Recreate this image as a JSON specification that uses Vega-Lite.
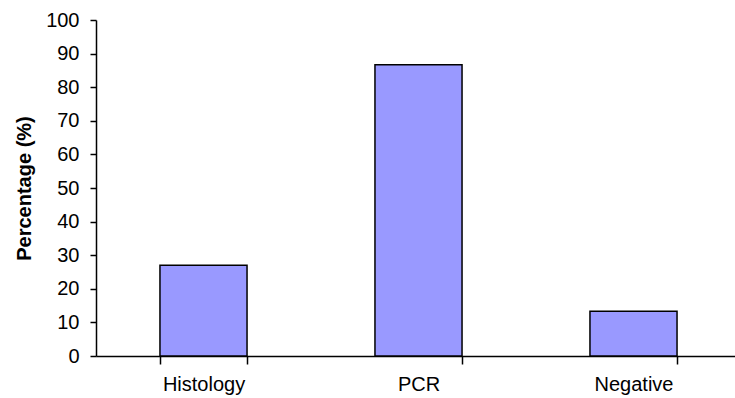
{
  "$schema": "https://vega.github.io/schema/vega-lite/v6.json",
  "autosize": {"type": "none"},
  "padding": {"left": 96, "top": 20, "right": 0, "bottom": 42},
  "width": 645,
  "height": 336,
  "background": "white",
  "config": {
    "view": {"stroke": null},
    "font": "Liberation Sans",
    "axis": {
      "domainColor": "black",
      "domainWidth": 1.5,
      "tickColor": "black",
      "tickWidth": 1.5,
      "labelColor": "black",
      "titleColor": "black",
      "labelFont": "Liberation Sans",
      "titleFont": "Liberation Sans",
      "grid": false
    }
  },
  "data": {
    "values": [
      {"method": "Histology", "percentage": 27},
      {"method": "PCR", "percentage": 86.7},
      {"method": "Negative", "percentage": 13.3}
    ]
  },
  "mark": {"type": "bar", "fill": "#9999FF", "stroke": "black", "strokeWidth": 1.5},
  "encoding": {
    "x": {
      "field": "method",
      "type": "nominal",
      "sort": null,
      "scale": {"paddingInner": 0.595, "paddingOuter": 0.2975},
      "axis": {
        "title": null,
        "labelAngle": 0,
        "labelFontSize": 20,
        "labelPadding": 10,
        "tickBand": "extent",
        "tickSize": 8
      }
    },
    "y": {
      "field": "percentage",
      "type": "quantitative",
      "scale": {"domain": [0, 100], "nice": false},
      "axis": {
        "title": "Percentage (%)",
        "titleFontSize": 20,
        "titleFontWeight": "bold",
        "titlePadding": 11,
        "values": [0, 10, 20, 30, 40, 50, 60, 70, 80, 90, 100],
        "labelFontSize": 20,
        "labelPadding": 11,
        "tickSize": 6
      }
    }
  }
}
